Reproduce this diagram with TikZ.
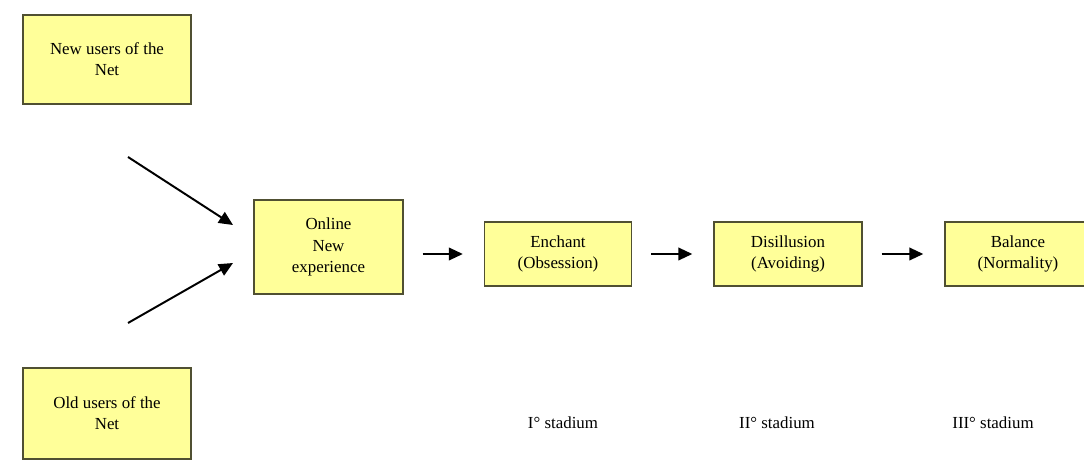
\documentclass[tikz,border=0pt]{standalone}
\usepackage{fontspec}
\setmainfont{Liberation Serif}
\usetikzlibrary{arrows.meta}
\definecolor{boxfill}{RGB}{255,255,153}
\definecolor{boxline}{RGB}{80,80,50}

\begin{document}
\begin{tikzpicture}[x=0.025cm,y=-0.025cm,line width=1.2pt]
   \tikzset{box/.style 2 args={draw=boxline, fill=boxfill, minimum width=#1, minimum height=#2, align=center, font=\fontsize{12}{15}\selectfont}};
   \tikzset{tip/.style={-{Triangle[length=10pt,width=9pt]}, line width=1.4pt}};
   \tikzset{arr/.style={tip, shorten <=0.47cm, shorten >=0.52cm}};
   \useasboundingbox (0,0) rectangle (1084,464);
   \clip (0,0) rectangle (1084,464);
   \node[box={4.2cm}{2.225cm}] (0) at (107,59.5) {New users of the\\Net};
\node[box={4.2cm}{2.275cm}] (1) at (107,413.5) {Old users of the\\Net};
\node[box={3.725cm}{2.35cm}] (2) at (328.5,247) {Online\\New\\experience};
\node[box={3.675cm}{1.6cm}] (3) at (558,254) {Enchant\\(Obsession)};
\node[box={3.7cm}{1.6cm}] (4) at (788,254) {Disillusion\\(Avoiding)};
\node[box={3.65cm}{1.6cm}] (5) at (1018,254) {Balance\\(Normality)};

\node[font=\fontsize{12}{15}\selectfont] (6) at (563,423) {I° stadium};
\node[font=\fontsize{12}{15}\selectfont] (7) at (777,423) {II° stadium};
\node[font=\fontsize{12}{15}\selectfont] (8) at (993,423) {III° stadium};

\coordinate (a) at (128,157);
\coordinate (b) at (233,225);
\coordinate (c) at (128,323);
\coordinate (d) at (233,263);

\draw[tip] (a) -- (b);
\draw[tip] (c) -- (d);
\draw[arr] (2.east |- 3) -- (3);
\draw[arr] (3) -- (4);
\draw[arr] (4) -- (5);
   
\end{tikzpicture}
\end{document}
